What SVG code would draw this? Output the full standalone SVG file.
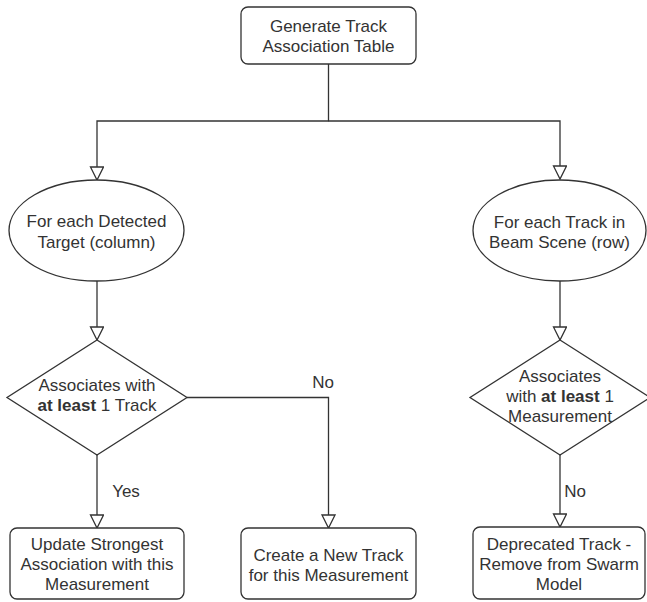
<svg xmlns="http://www.w3.org/2000/svg" width="647" height="602" viewBox="0 0 647 602">
<style>
.box{fill:#fff;stroke:#333;stroke-width:1.3}
.ln{fill:none;stroke:#333;stroke-width:1.3}
text{font-family:"Liberation Sans",Arial,sans-serif;font-size:17px;fill:#333;text-anchor:middle}
.b{font-weight:bold}
</style>
<defs>
<marker id="arr" markerUnits="userSpaceOnUse" markerWidth="16" markerHeight="16" refX="14" refY="7" orient="auto">
<path d="M1,0.5 L14,7 L1,13.5 Z" fill="#fff" stroke="#333" stroke-width="1.3"/>
</marker>
</defs>
<rect width="647" height="602" fill="#fff"/>
<g id="connectors">
<path class="ln" d="M328.5,64 V121 H97 V180" marker-end="url(#arr)"/>
<path class="ln" d="M328.5,121 H560 V179" marker-end="url(#arr)"/>
<path class="ln" d="M97,281 V340" marker-end="url(#arr)"/>
<path class="ln" d="M560,281 V340" marker-end="url(#arr)"/>
<path class="ln" d="M97,455 V528" marker-end="url(#arr)"/>
<path class="ln" d="M187,397.5 H328.5 V528" marker-end="url(#arr)"/>
<path class="ln" d="M560,455 V527" marker-end="url(#arr)"/>
<text x="323" y="388">No</text>
<text x="126" y="497">Yes</text>
<text x="575" y="497">No</text>
</g>
<g id="start">
<rect class="box" x="241" y="7" width="175" height="57" rx="7"/>
<text x="328.5" y="32">Generate Track</text>
<text x="328.5" y="52">Association Table</text>
</g>
<g id="loopTargets">
<ellipse class="box" cx="96.5" cy="230.5" rx="87.5" ry="50.5"/>
<text x="96.5" y="227">For each Detected</text>
<text x="96.5" y="248">Target (column)</text>
</g>
<g id="loopTracks">
<ellipse class="box" cx="559.5" cy="230.5" rx="86.5" ry="50.5"/>
<text x="559.5" y="227.5">For each Track in</text>
<text x="559.5" y="247.5">Beam Scene (row)</text>
</g>
<g id="decisionTarget">
<polygon class="box" points="97,340 187,397.5 97,455 7,397.5"/>
<text x="97" y="391">Associates with</text>
<text x="97" y="411"><tspan class="b">at least</tspan> 1 Track</text>
</g>
<g id="decisionTrack">
<polygon class="box" points="560,340 650,397.5 560,455 470,397.5"/>
<text x="560" y="381.5">Associates</text>
<text x="560" y="401.5">with <tspan class="b">at least</tspan> 1</text>
<text x="560" y="421.5">Measurement</text>
</g>
<g id="updateAssoc">
<rect class="box" x="10" y="528" width="174" height="71" rx="7"/>
<text x="97" y="550">Update Strongest</text>
<text x="97" y="570">Association with this</text>
<text x="97" y="590">Measurement</text>
</g>
<g id="newTrack">
<rect class="box" x="241" y="528" width="175" height="71" rx="7"/>
<text x="328.5" y="561">Create a New Track</text>
<text x="328.5" y="581">for this Measurement</text>
</g>
<g id="deprecated">
<rect class="box" x="473" y="527" width="172" height="72" rx="7"/>
<text x="559" y="550">Deprecated Track -</text>
<text x="559" y="570">Remove from Swarm</text>
<text x="559" y="590">Model</text>
</g>
</svg>
